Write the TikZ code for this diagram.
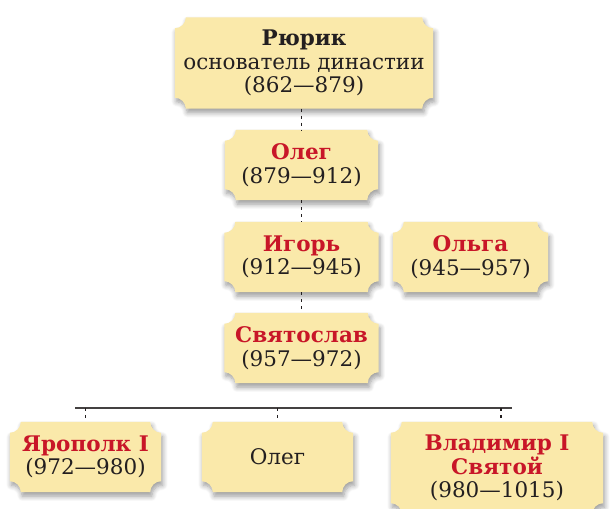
\documentclass[tikz,border=0pt]{standalone}
\usepackage{fontspec}
\setmainfont{DejaVu Serif}
\usetikzlibrary{backgrounds}
\usetikzlibrary{shadows.blur}

\definecolor{cardfill}{RGB}{250,233,170}
\definecolor{namered}{RGB}{200,22,40}
\definecolor{ink}{RGB}{35,31,32}

\tikzset{
  card/.style={inner sep=0pt, align=center, text=ink, font=\fontsize{21.5}{23.5}\selectfont},
  cardshape/.style={fill=cardfill, blur shadow={shadow xshift=1.5pt, shadow yshift=-4pt, shadow blur radius=5pt, shadow blur steps=8, shadow opacity=40}},
  link/.style={draw=ink, line width=1.5pt, dash pattern=on 3pt off 4pt},
  bar/.style={draw=ink!85, line width=1.7pt}
}
\newcommand{\rname}[1]{\textcolor{namered}{\bfseries #1}}

\begin{document}
\begin{tikzpicture}[x=1pt,y=1pt]
        \useasboundingbox (0,0) rectangle (612,508);
        % Text Node
        \node[card, minimum width=258pt, minimum height=91pt] (rurik) at (304,445) {\textbf{Рюрик}\\основатель династии\\(862—879)};
        % Text Node
        \node[card, minimum width=153pt, minimum height=70pt] (oleg) at (301.5,343) {\rname{Олег}\\(879—912)};
        % Text Node
        \node[card, minimum width=154pt, minimum height=70pt] (igor) at (301.5,251) {\rname{Игорь}\\(912—945)};
        % Text Node
        \node[card, minimum width=155pt, minimum height=70pt] (olga) at (470.5,251) {\rname{Ольга}\\(945—957)};
        % Text Node
        \node[card, minimum width=154pt, minimum height=70pt] (svyat) at (301.5,160) {\rname{Святослав}\\(957—972)};
        % Text Node
        \node[card, minimum width=151pt, minimum height=70pt] (yaropolk) at (85.5,51) {\rname{Ярополк I}\\(972—980)};
        % Text Node
        \node[card, minimum width=151pt, minimum height=70pt] (olegson) at (277.5,51) {Олег};
        % Text Node
        \node[card, minimum width=212pt, minimum height=92pt] (vladimir) at (497,40) {\rname{Владимир I}\\\rname{Святой}\\(980—1015)};

        %Shape: Cards
        \begin{scope}[on background layer]
        \foreach \n in {rurik,oleg,igor,olga,svyat,yaropolk,olegson,vladimir}
          \fill[cardshape] ([xshift=11pt]\n.north west) -- ([xshift=-11pt]\n.north east)
            arc[start angle=180,end angle=270,radius=11pt] -- ([yshift=11pt]\n.south east)
            arc[start angle=90,end angle=180,radius=11pt] -- ([xshift=11pt]\n.south west)
            arc[start angle=0,end angle=90,radius=11pt] -- ([yshift=-11pt]\n.north west)
            arc[start angle=270,end angle=360,radius=11pt] -- cycle;
        \end{scope}

        %Straight Lines
        \draw[link] (oleg.north |- rurik.south) -- (oleg.north);
        \draw[link] (oleg.south) -- (igor.north);
        \draw[link] (igor.south) -- (svyat.north);
        %Straight Lines
        \coordinate (barL) at (75,100);
        \coordinate (barR) at (512,100);
        \draw[bar] (barL) -- (barR);
        \draw[link] (yaropolk.north |- barL) -- (yaropolk.north);
        \draw[link] (olegson.north |- barL) -- (olegson.north);
        \draw[link] ([xshift=4pt]vladimir.north |- barL) -- ([xshift=4pt]vladimir.north);
\end{tikzpicture}
\end{document}
